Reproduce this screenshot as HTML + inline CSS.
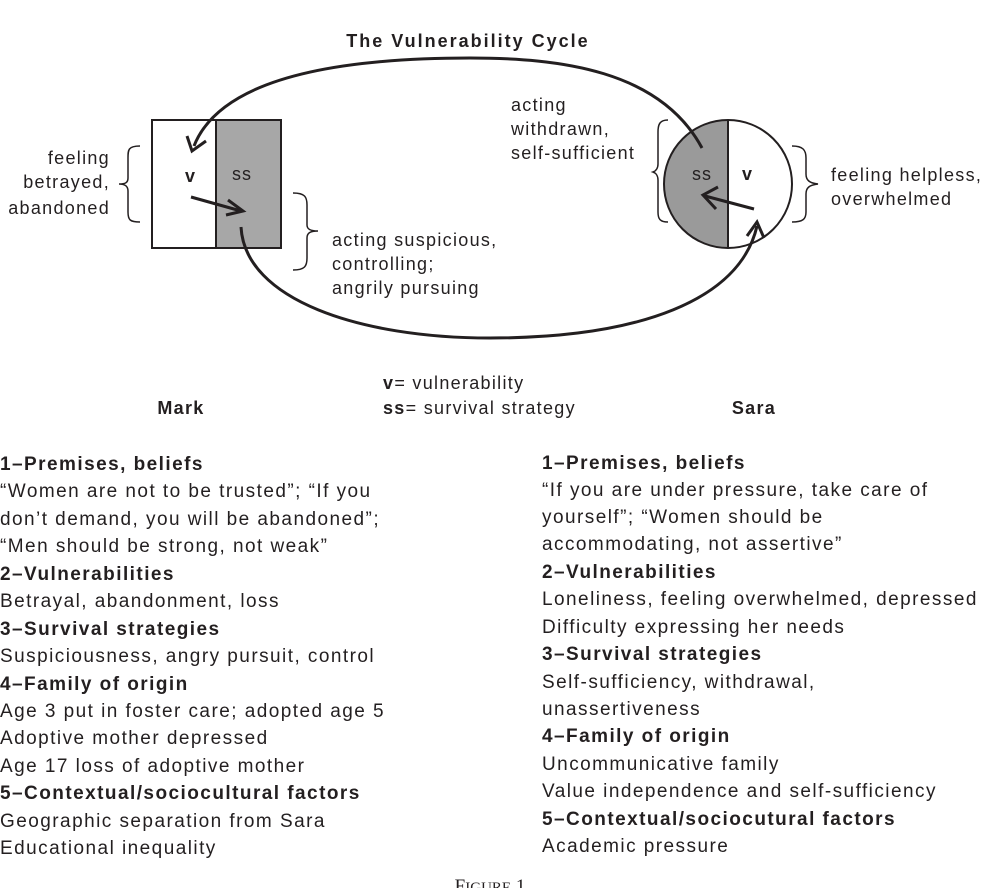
<!DOCTYPE html>
<html><head><meta charset="utf-8"><style>
html,body{margin:0;padding:0;background:#fff;}
svg{display:block;}
text{font-family:"Liberation Sans",Arial,sans-serif;fill:#231f20;}
.b{font-weight:bold;}
.lab{letter-spacing:1.3px;}
.col{letter-spacing:1.45px;}
</style></head><body>
<svg width="982" height="888" viewBox="0 0 982 888" xmlns="http://www.w3.org/2000/svg">
<text x="468" y="47" class="b" font-size="18" text-anchor="middle" letter-spacing="2">The Vulnerability Cycle</text>
<!-- Mark box -->
<rect x="152" y="120" width="64" height="128" fill="#fff" stroke="#231f20" stroke-width="2"/>
<rect x="216" y="120" width="65" height="128" fill="#a7a7a7" stroke="#231f20" stroke-width="2"/>
<text x="190" y="182" class="b" font-size="18" text-anchor="middle">v</text>
<text x="242" y="180" font-size="18" text-anchor="middle" letter-spacing="1">ss</text>
<!-- Sara circle -->
<path d="M728 120 A64 64 0 0 0 728 248 Z" fill="#9a9a9a"/>
<circle cx="728" cy="184" r="64" fill="none" stroke="#231f20" stroke-width="2"/>
<line x1="728" y1="120" x2="728" y2="248" stroke="#231f20" stroke-width="2"/>
<text x="702" y="180" font-size="18" text-anchor="middle" letter-spacing="1">ss</text>
<text x="747" y="180" class="b" font-size="18" text-anchor="middle">v</text>
<!-- big arcs -->
<path d="M702 148 C660 70 560 58 470 58 C330 58 220 80 194 146" fill="none" stroke="#231f20" stroke-width="3"/>
<path d="M187 136 L192 151 L206 141" fill="none" stroke="#231f20" stroke-width="3"/>
<path d="M241 227 C245 300 360 338 490 338 C640 338 740 300 757 226" fill="none" stroke="#231f20" stroke-width="3"/>
<path d="M747 236 L757 222 L764 238" fill="none" stroke="#231f20" stroke-width="3"/>
<!-- inner arrows -->
<line x1="191" y1="197" x2="241" y2="211" stroke="#231f20" stroke-width="3"/>
<path d="M228 200 L243 211 L226 215" fill="none" stroke="#231f20" stroke-width="3"/>
<line x1="754" y1="209" x2="705" y2="196" stroke="#231f20" stroke-width="3"/>
<path d="M718 187 L703 195 L716 209" fill="none" stroke="#231f20" stroke-width="3"/>
<!-- braces -->
<path d="M140 146 C128 146 128 150 128 158 L128 178 C128 183 125 184 119 184 C125 184 128 186 128 191 L128 212 C128 220 130 222 140 222" fill="none" stroke="#231f20" stroke-width="1.5"/>
<path d="M293 193 C305 193 307 197 307 205 L307 225 C307 229 310 231 318 231 C310 231 307 233 307 238 L307 258 C307 266 305 270 293 270" fill="none" stroke="#231f20" stroke-width="1.5"/>
<path d="M668 120 C660 120 658 124 658 132 L658 164 C658 168 656 171 653 172 C656 173 658 176 658 180 L658 212 C658 219 660 222 668 222" fill="none" stroke="#231f20" stroke-width="1.5"/>
<path d="M792 146 C803 146 806 150 806 158 L806 174 C806 180 809 183 818 184 C809 185 806 188 806 194 L806 212 C806 219 803 222 792 222" fill="none" stroke="#231f20" stroke-width="1.5"/>
<!-- side labels -->
<g font-size="18" class="lab">
<text x="110" y="164" text-anchor="end">feeling</text>
<text x="110" y="188" text-anchor="end">betrayed,</text>
<text x="110" y="214" text-anchor="end">abandoned</text>
<text x="332" y="246">acting suspicious,</text>
<text x="332" y="270">controlling;</text>
<text x="332" y="294">angrily pursuing</text>
<text x="511" y="111">acting</text>
<text x="511" y="135">withdrawn,</text>
<text x="511" y="159">self-sufficient</text>
<text x="831" y="181">feeling helpless,</text>
<text x="831" y="205">overwhelmed</text>
<text x="383" y="389"><tspan class="b">v</tspan>= vulnerability</text>
<text x="383" y="414"><tspan class="b">ss</tspan>= survival strategy</text>
<text x="181" y="414" class="b" text-anchor="middle">Mark</text>
<text x="754" y="414" class="b" text-anchor="middle">Sara</text>
</g>
<!-- left column -->
<g font-size="19" class="col">
<text x="0" y="470" class="b">1–Premises, beliefs</text>
<text x="0" y="497">“Women are not to be trusted”; “If you</text>
<text x="0" y="525">don’t demand, you will be abandoned”;</text>
<text x="0" y="552">“Men should be strong, not weak”</text>
<text x="0" y="580" class="b">2–Vulnerabilities</text>
<text x="0" y="607">Betrayal, abandonment, loss</text>
<text x="0" y="635" class="b">3–Survival strategies</text>
<text x="0" y="662">Suspiciousness, angry pursuit, control</text>
<text x="0" y="690" class="b">4–Family of origin</text>
<text x="0" y="717">Age 3 put in foster care; adopted age 5</text>
<text x="0" y="744">Adoptive mother depressed</text>
<text x="0" y="772">Age 17 loss of adoptive mother</text>
<text x="0" y="799" class="b">5–Contextual/sociocultural factors</text>
<text x="0" y="827">Geographic separation from Sara</text>
<text x="0" y="854">Educational inequality</text>
<!-- right column -->
<text x="542" y="469" class="b">1–Premises, beliefs</text>
<text x="542" y="496">“If you are under pressure, take care of</text>
<text x="542" y="523">yourself”; “Women should be</text>
<text x="542" y="550">accommodating, not assertive”</text>
<text x="542" y="578" class="b">2–Vulnerabilities</text>
<text x="542" y="605">Loneliness, feeling overwhelmed, depressed</text>
<text x="542" y="633">Difficulty expressing her needs</text>
<text x="542" y="660" class="b">3–Survival strategies</text>
<text x="542" y="688">Self-sufficiency, withdrawal,</text>
<text x="542" y="715">unassertiveness</text>
<text x="542" y="742" class="b">4–Family of origin</text>
<text x="542" y="770">Uncommunicative family</text>
<text x="542" y="797">Value independence and self-sufficiency</text>
<text x="542" y="825" class="b">5–Contextual/sociocutural factors</text>
<text x="542" y="852">Academic pressure</text>
</g>
<text x="490" y="892" font-size="19" text-anchor="middle" style="font-family:'Liberation Serif',serif">F<tspan font-size="15">IGURE</tspan> 1</text>
</svg>
</body></html>
